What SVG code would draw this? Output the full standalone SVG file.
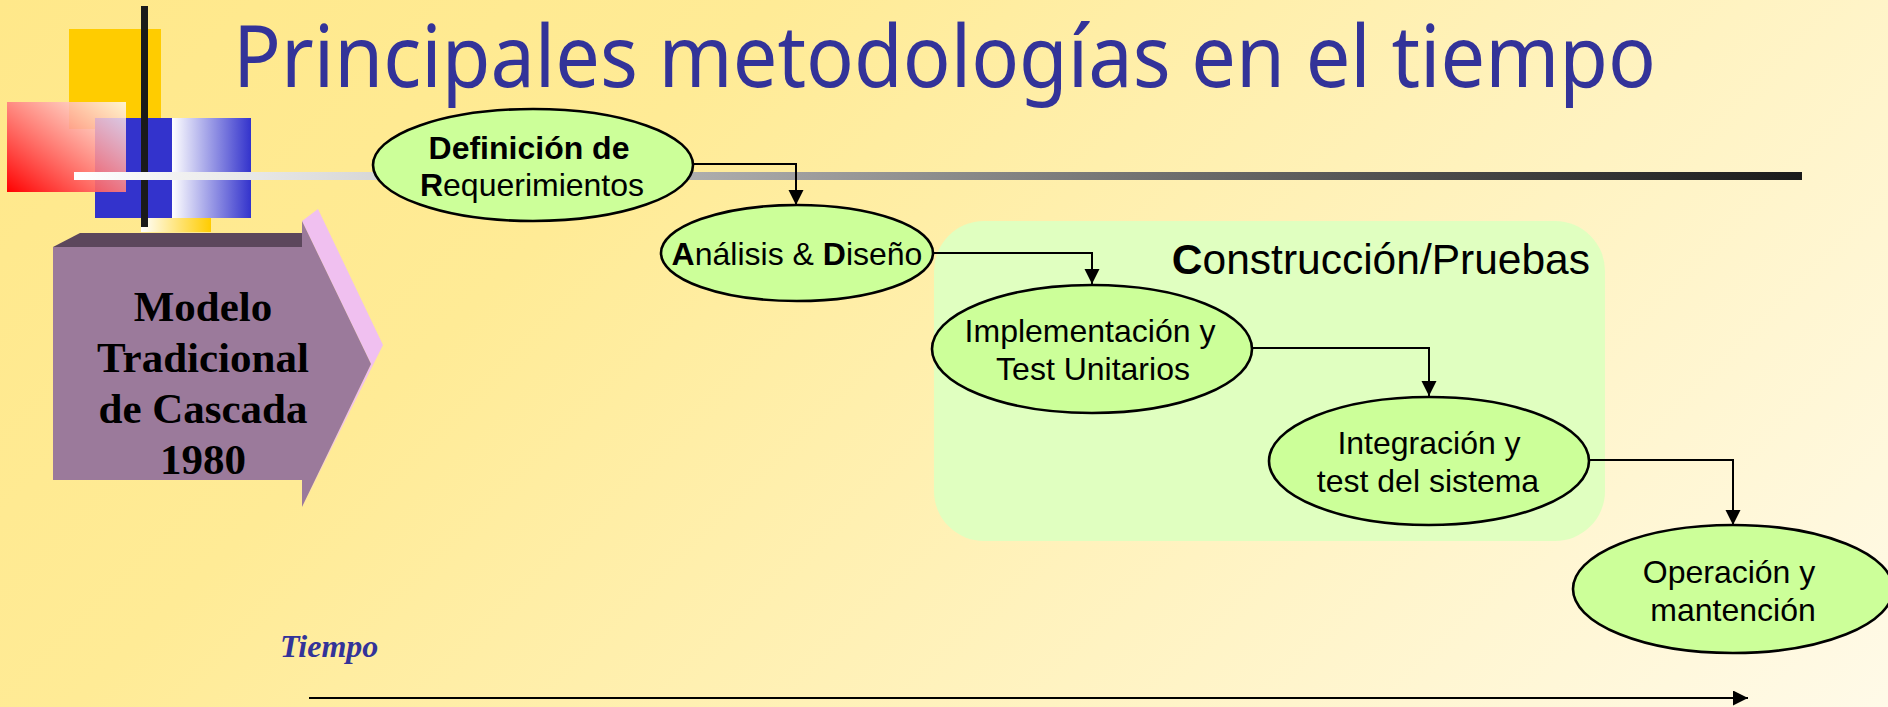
<svg xmlns="http://www.w3.org/2000/svg" width="1888" height="707" viewBox="0 0 1888 707">
  <style>
    .node { fill: #CCFF99; stroke: #000; stroke-width: 2.6; }
    .lbl { font-family: "Liberation Sans", Arial, sans-serif; font-size: 32px; fill: #000; text-anchor: middle; }
    .b { font-weight: bold; }
    .link { fill: none; stroke: #000; stroke-width: 2; }
    .head { font-family: "Liberation Serif", "Times New Roman", serif; font-weight: bold; font-size: 43px; fill: #000; text-anchor: middle; }
  </style>
  <defs>
    <linearGradient id="page" gradientUnits="userSpaceOnUse" x1="0" y1="0" x2="1298" y2="1298">
      <stop offset="0" stop-color="#FFE88A"/>
      <stop offset="0.3" stop-color="#FFEB96"/>
      <stop offset="1" stop-color="#FFFAE8"/>
    </linearGradient>
    <linearGradient id="blueFade" x1="0" y1="0" x2="1" y2="0">
      <stop offset="0" stop-color="#FFF"/>
      <stop offset="1" stop-color="#3333CC"/>
    </linearGradient>
    <linearGradient id="goldFade" x1="0" y1="0" x2="1" y2="0">
      <stop offset="0" stop-color="#FFF"/>
      <stop offset="1" stop-color="#FFCC00"/>
    </linearGradient>
    <linearGradient id="redFade" x1="0" y1="1" x2="1" y2="0">
      <stop offset="0" stop-color="#FF0000"/>
      <stop offset="1" stop-color="#FFFFFF" stop-opacity="0.8"/>
    </linearGradient>
    <linearGradient id="rule" x1="0" y1="0" x2="1" y2="0">
      <stop offset="0" stop-color="#FFF"/>
      <stop offset="1" stop-color="#1A1A1A"/>
    </linearGradient>
    <marker id="tip" markerUnits="userSpaceOnUse" markerWidth="16" markerHeight="16" refX="15" refY="7.5" orient="auto">
      <path d="M0 0L15 7.5L0 15Z" fill="#000"/>
    </marker>
  </defs>

  <rect width="1888" height="707" fill="url(#page)"/>

  <!-- slide ornament: the long rule runs over the upright bar -->
  <g id="ornament">
    <rect x="69" y="29" width="92" height="100" fill="#FFCC00"/>
    <rect x="141" y="218" width="70" height="14" fill="url(#goldFade)"/>
    <rect x="95" y="118" width="78" height="100" fill="#3333CC"/>
    <rect x="172" y="118" width="79" height="100" fill="url(#blueFade)"/>
    <rect x="7" y="102" width="119" height="90" fill="url(#redFade)"/>
    <rect x="141" y="6" width="7" height="221" fill="#1A1A1A"/>
    <rect x="74" y="172" width="1728" height="8" fill="url(#rule)"/>
  </g>

  <text id="title" x="233" y="87" font-family="'Noto Sans', Verdana, sans-serif" font-size="85" fill="#333399" textLength="1423" lengthAdjust="spacingAndGlyphs">Principales metodologías en el tiempo</text>

  <g id="model-arrow">
    <path d="M53 247L80 233H302V247Z" fill="#5C475C"/>
    <path d="M302 221L318 209L383 345L302 507L371 364Z" fill="#F0C0F0"/>
    <path d="M53 247H302V221L371 364L302 507V480H53Z" fill="#9B7A9B"/>
    <text class="head" x="203" y="321">Modelo</text>
    <text class="head" x="203" y="372">Tradicional</text>
    <text class="head" x="203" y="423">de Cascada</text>
    <text class="head" x="203" y="474">1980</text>
  </g>

  <g id="construction-area">
    <rect x="934" y="221" width="671" height="320" rx="50" fill="#E0FFC0"/>
    <text x="1590" y="274" font-family="'Liberation Sans', Arial, sans-serif" font-size="42.5" fill="#000" text-anchor="end"><tspan font-weight="bold">C</tspan>onstrucción/Pruebas</text>
  </g>

  <g id="connectors">
    <path class="link" d="M694 164H796V205" marker-end="url(#tip)"/>
    <path class="link" d="M933 253H1092V284" marker-end="url(#tip)"/>
    <path class="link" d="M1253 348H1429V396" marker-end="url(#tip)"/>
    <path class="link" d="M1589 460H1733V525" marker-end="url(#tip)"/>
    <path class="link" d="M309 698H1748" marker-end="url(#tip)"/>
  </g>

  <g id="requirements">
    <ellipse class="node" cx="533" cy="165" rx="160" ry="56"/>
    <text class="lbl b" x="529" y="159">Definición de</text>
    <text class="lbl" x="532" y="196"><tspan class="b">R</tspan>equerimientos</text>
  </g>
  <g id="analysis">
    <ellipse class="node" cx="797" cy="253" rx="136" ry="48"/>
    <text class="lbl" x="797" y="265"><tspan class="b">A</tspan>nálisis &amp; <tspan class="b">D</tspan>iseño</text>
  </g>
  <g id="implementation">
    <ellipse class="node" cx="1092" cy="349" rx="160" ry="64"/>
    <text class="lbl" x="1090" y="342">Implementación y</text>
    <text class="lbl" x="1093" y="380">Test Unitarios</text>
  </g>
  <g id="integration">
    <ellipse class="node" cx="1429" cy="461" rx="160" ry="64"/>
    <text class="lbl" x="1429" y="454">Integración y</text>
    <text class="lbl" x="1428" y="492">test del sistema</text>
  </g>
  <g id="operation">
    <ellipse class="node" cx="1733" cy="589" rx="160" ry="64"/>
    <text class="lbl" x="1729" y="583">Operación y</text>
    <text class="lbl" x="1733" y="621">mantención</text>
  </g>

  <text id="time" x="280" y="657" font-family="'Liberation Serif', 'Times New Roman', serif" font-weight="bold" font-style="italic" font-size="32" fill="#333399">Tiempo</text>
</svg>
